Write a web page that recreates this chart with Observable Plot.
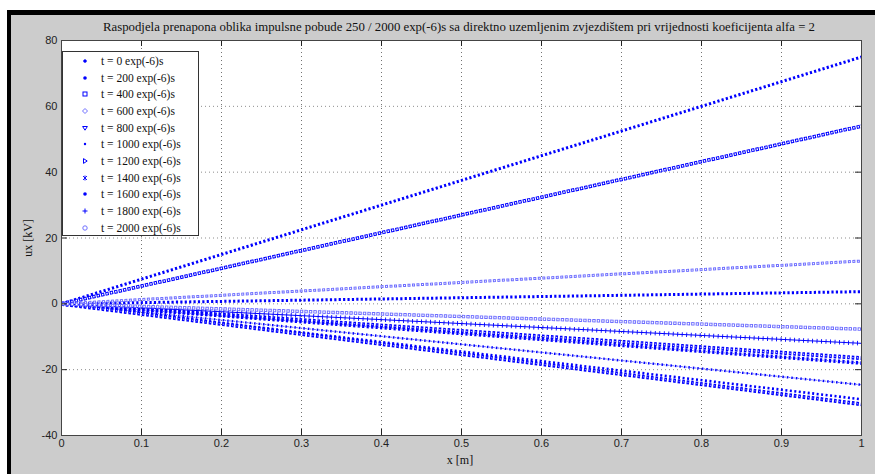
<!DOCTYPE html>
<html>
<head>
<meta charset="utf-8">
<script src="https://cdn.jsdelivr.net/npm/d3@7"></script>
<script src="https://cdn.jsdelivr.net/npm/@observablehq/plot@0.6"></script>
<style>
  html, body { margin: 0; padding: 0; background: #ffffff; }
  #page { position: relative; width: 875px; height: 474px; overflow: hidden; }
  #panel { position: absolute; left: 7px; top: 10px; width: 880px; height: 480px;
           border-left: 4px solid #000; border-top: 5px solid #000; background: #cccccc; }
  #chart { position: absolute; left: 0; top: 0; }
  #overlay { position: absolute; left: 0; top: 0; pointer-events: none; }
  #legend { position: absolute; left: 62px; top: 51px; width: 135px; height: 183px;
            background: #fff; border: 1px solid #333; }
  .lrow { position: absolute; left: 0; height: 16px; width: 135px;
          font-family: "Liberation Serif", "DejaVu Serif", serif; font-size: 11.5px; color: #111; }
  .lrow svg { position: absolute; left: 16px; top: 2px; }
  .lrow span { position: absolute; left: 38px; top: 0px; line-height: 16px; white-space: nowrap; }
</style>
</head>
<body>
<div id="page">
  <div id="panel"></div>
  <div id="chart"></div>
  <svg id="overlay" width="875" height="474"></svg>
  <div id="legend"></div>
</div>
<script>
// ---------------- data ----------------
const titleText = "Raspodjela prenapona oblika impulsne pobude 250 / 2000 exp(-6)s sa direktno uzemljenim zvjezdištem pri vrijednosti koeficijenta alfa = 2";
const xLabel = "x [m]";
const yLabel = "ux [kV]";
const times = [0, 200, 400, 600, 800, 1000, 1200, 1400, 1600, 1800, 2000];
const seriesLabels = times.map(t => `t = ${t} exp(-6)s`);
const xPositions = [0, 1];                       // x [m] where values are read
const uAtStart = [0, 0, 0, 0, 0, 0, 0, 0, 0, 0, 0];           // ux at x = 0
const uAtEnd = [75, 3.7, 54, 13, -16.5, -29, -18, -24.6, -30.5, -12, -7.7]; // ux at x = 1
const xTicks = [0, 0.1, 0.2, 0.3, 0.4, 0.5, 0.6, 0.7, 0.8, 0.9, 1];
const yTicks = [-40, -20, 0, 20, 40, 60, 80];

// ---------------- styles (marker emulation) ----------------
const B = "#0000ff", L = "#6f6fff";
const seriesStyles = [
  {marker: "plus-dot", layers: [{stroke: B, w: 3, dash: "2.2 2.2"}]},
  {marker: "dot", layers: [{stroke: B, w: 3, dash: "2.2 2.2"}]},
  {marker: "square", layers: [{stroke: B, w: 3.6, dash: "3.4 1.1"}, {stroke: "#fff", w: 1.6, dash: "0 1 1.4 2.1"}]},
  {marker: "diamond", layers: [{stroke: L, w: 3, dash: "3 1.5"}, {stroke: "#fff", w: 1.1, dash: "0 1 1 2.5"}]},
  {marker: "tri-down", layers: [{stroke: B, w: 4, dash: "2.6 1.9"}, {stroke: "#fff", w: 1, dash: "0 0.8 1 2.7"}]},
  {marker: "small-dot", layers: [{stroke: B, w: 2.6, dash: "2 2.5"}]},
  {marker: "tri-right", layers: [{stroke: B, w: 3.6, dash: "2.2 2.3"}, {stroke: L, w: 1, dash: "0 2.2 1.5 0.8"}]},
  {marker: "star", layers: [{stroke: B, w: 2.4, dash: "1.6 2.9"}, {stroke: L, w: 1, dash: "0 1.6 2 0.9"}]},
  {marker: "dot", layers: [{stroke: B, w: 4, dash: "2.6 1.9"}, {stroke: "#fff", w: 0.8, dash: "0 1 0.8 2.7"}]},
  {marker: "plus", layers: [{stroke: B, w: 1, dash: null}, {stroke: B, w: 4.5, dash: "0.9 3.6"}]},
  {marker: "circle", layers: [{stroke: L, w: 3.4, dash: "3.4 1.1"}, {stroke: "#fff", w: 1.6, dash: "0 1 1.4 2.1"}]}
];

// ---------------- table built from the arrays ----------------
const rows = [];
times.forEach((t, i) => {
  rows.push({series: i, x: xPositions[0], u: uAtStart[i]});
  rows.push({series: i, x: xPositions[1], u: uAtEnd[i]});
});

const W = 875, H = 474;
const mL = 61, mR = 14, mT = 40, mB = 39;
const fw = W - mL - mR, fh = H - mT - mB;
const tick = 6;

const marks = [
  Plot.frame({fill: "#ffffff", stroke: "none"}),
  Plot.gridX(xTicks, {stroke: "#000", strokeOpacity: 0.55, strokeDasharray: "1 3"}),
  Plot.gridY(yTicks, {stroke: "#000", strokeOpacity: 0.45, strokeDasharray: "1 3"})
];
seriesStyles.forEach((s, i) => {
  const d = rows.filter(r => r.series === i);
  s.layers.forEach(ly => {
    const opts = {x: "x", y: "u", stroke: ly.stroke, strokeWidth: ly.w, strokeLinecap: "butt"};
    if (ly.dash) opts.strokeDasharray = ly.dash;
    marks.push(Plot.line(d, opts));
  });
});
marks.push(
  Plot.ruleX(xTicks, {x: d => d, insetTop: fh - tick, stroke: "#222"}),
  Plot.ruleX(xTicks, {x: d => d, insetBottom: fh - tick, stroke: "#222"}),
  Plot.ruleY(yTicks, {y: d => d, insetRight: fw - tick, stroke: "#222"}),
  Plot.ruleY(yTicks, {y: d => d, insetLeft: fw - tick, stroke: "#222"}),
  Plot.frame({stroke: "#444", strokeWidth: 1}),
  Plot.axisX(xTicks, {tickSize: 0, tickPadding: 4, tickFormat: d => String(d), fill: "#222", fontSize: 11, label: null}),
  Plot.axisY(yTicks, {tickSize: 0, tickPadding: 4, tickFormat: d => String(d), fill: "#222", fontSize: 11, label: null})
);

const chart = Plot.plot({
  width: W, height: H,
  marginLeft: mL, marginRight: mR, marginTop: mT, marginBottom: mB,
  x: {domain: [0, 1]},
  y: {domain: [-40, 80]},
  style: {background: "transparent", fontFamily: "'Liberation Sans', Arial, sans-serif", fontSize: "11px"},
  marks
});
document.getElementById("chart").appendChild(chart);

// ---------------- title and axis labels ----------------
const ov = d3.select("#overlay");
ov.append("text").attr("x", 459).attr("y", 31).attr("text-anchor", "middle")
  .attr("textLength", 712).attr("lengthAdjust", "spacingAndGlyphs")
  .attr("font-family", "'Liberation Serif', 'DejaVu Serif', serif").attr("font-size", 12.5)
  .attr("fill", "#111").text(titleText);
ov.append("text").attr("x", 460).attr("y", 464).attr("text-anchor", "middle")
  .attr("font-family", "'Liberation Serif', 'DejaVu Serif', serif").attr("font-size", 12)
  .attr("fill", "#111").text(xLabel);
ov.append("text").attr("transform", "translate(32,238) rotate(-90)").attr("text-anchor", "middle")
  .attr("font-family", "'Liberation Serif', 'DejaVu Serif', serif").attr("font-size", 12)
  .attr("fill", "#111").text(yLabel);

// ---------------- legend ----------------
const legend = d3.select("#legend");
function drawMarker(g, kind) {
  const c = B;
  switch (kind) {
    case "plus-dot": g.append("circle").attr("cx", 6).attr("cy", 6).attr("r", 1.6).attr("fill", c);
      g.append("path").attr("d", "M4,6H8M6,4V8").attr("stroke", c).attr("stroke-width", 0.8); break;
    case "dot": g.append("circle").attr("cx", 6).attr("cy", 6).attr("r", 1.8).attr("fill", c); break;
    case "small-dot": g.append("circle").attr("cx", 6).attr("cy", 6).attr("r", 1.2).attr("fill", c); break;
    case "square": g.append("rect").attr("x", 4).attr("y", 4).attr("width", 4).attr("height", 4)
      .attr("fill", "none").attr("stroke", c).attr("stroke-width", 1); break;
    case "diamond": g.append("path").attr("d", "M6,3.5L8.5,6L6,8.5L3.5,6Z").attr("fill", "none").attr("stroke", L); break;
    case "tri-down": g.append("path").attr("d", "M3.6,4.5H8.4L6,8.2Z").attr("fill", "none").attr("stroke", c); break;
    case "tri-right": g.append("path").attr("d", "M4.5,3.6V8.4L8.2,6Z").attr("fill", "none").attr("stroke", c); break;
    case "star": g.append("path").attr("d", "M4,4L8,8M8,4L4,8M6,3.5V8.5").attr("stroke", c).attr("stroke-width", 0.9); break;
    case "plus": g.append("path").attr("d", "M3.5,6H8.5M6,3.5V8.5").attr("stroke", c).attr("stroke-width", 1); break;
    case "circle": g.append("circle").attr("cx", 6).attr("cy", 6).attr("r", 2.2).attr("fill", "none").attr("stroke", L); break;
  }
}
seriesLabels.forEach((lab, i) => {
  const row = legend.append("div").attr("class", "lrow").style("top", (1 + i * 16.67) + "px");
  const s = row.append("svg").attr("width", 12).attr("height", 12);
  drawMarker(s, seriesStyles[i].marker);
  row.append("span").text(lab);
});
</script>
</body>
</html>
